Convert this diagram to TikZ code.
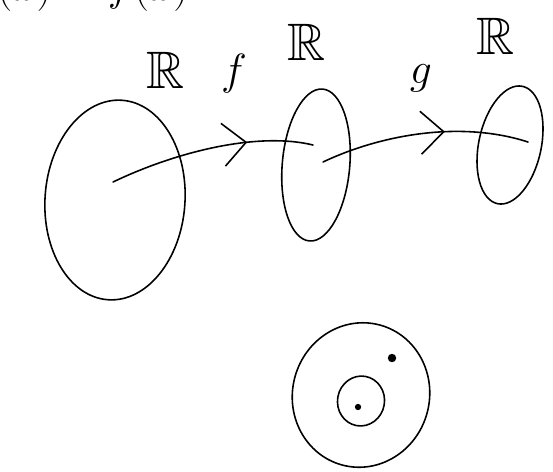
\documentclass[tikz,border=0pt]{standalone}
\usepackage{amsmath,amssymb}
\usetikzlibrary{arrows.meta,positioning,calc,shapes.geometric,decorations.markings}

\begin{document}
\begin{tikzpicture}[x=.02cm,y=-.02cm,line width=.9pt,line cap=round,
 blob/.style={draw,ellipse,inner sep=0pt},
 hand/.style={font=\fontsize{30}{32}\selectfont},
 midarrow/.style={postaction={decorate},decoration={markings,
  mark=at position #1 with {\arrow[line width=.9pt]{Straight Barb[length=4.6mm,width=8.6mm]}}}}]
\useasboundingbox (0,0) rectangle (553,471);
% cut-off line at the top
\node[hand,anchor=base west,inner sep=0pt] (top) at (-4,0) {$(x)=f(x)$};
% the three sets
\node[blob,minimum width=2.8cm,minimum height=4cm,rotate=-4] (dom) at (115,200) {};
\node[blob,minimum width=1.35cm,minimum height=3.05cm,rotate=-5] (mid) at (316,165) {};
\node[blob,minimum width=1.25cm,minimum height=2.4cm,rotate=-12] (cod) at (510,145) {};
\node[hand] (Rdom) at (166,70) {$\mathbb{R}$};
\node[hand] (Rmid) at (307,42) {$\mathbb{R}$};
\node[hand] (Rcod) at (496,36) {$\mathbb{R}$};
\node[hand] (f) at (234,74) {$f$};
\node[hand] (g) at (421,78) {$g$};
% maps
\coordinate (fa) at (113,182);
\coordinate (fb) at (313,145);
\coordinate (ga) at (323,162);
\coordinate (gb) at (528,142);
\draw[midarrow=.68] (fa) .. controls (180,150) and (260,132) .. (fb);
\draw[midarrow=.6] (ga) .. controls (380,135) and (460,120) .. (gb);
% disc with a hole
\node[blob,minimum width=2.74cm,minimum height=2.9cm,rotate=-15] (disc) at (361,395) {};
\node[blob,minimum width=.94cm,minimum height=1cm,rotate=-10] (hole) at (361,401) {};
\fill (358,407) circle (1.8pt);
\fill (392,358) circle (2.4pt);
\end{tikzpicture}
\end{document}
